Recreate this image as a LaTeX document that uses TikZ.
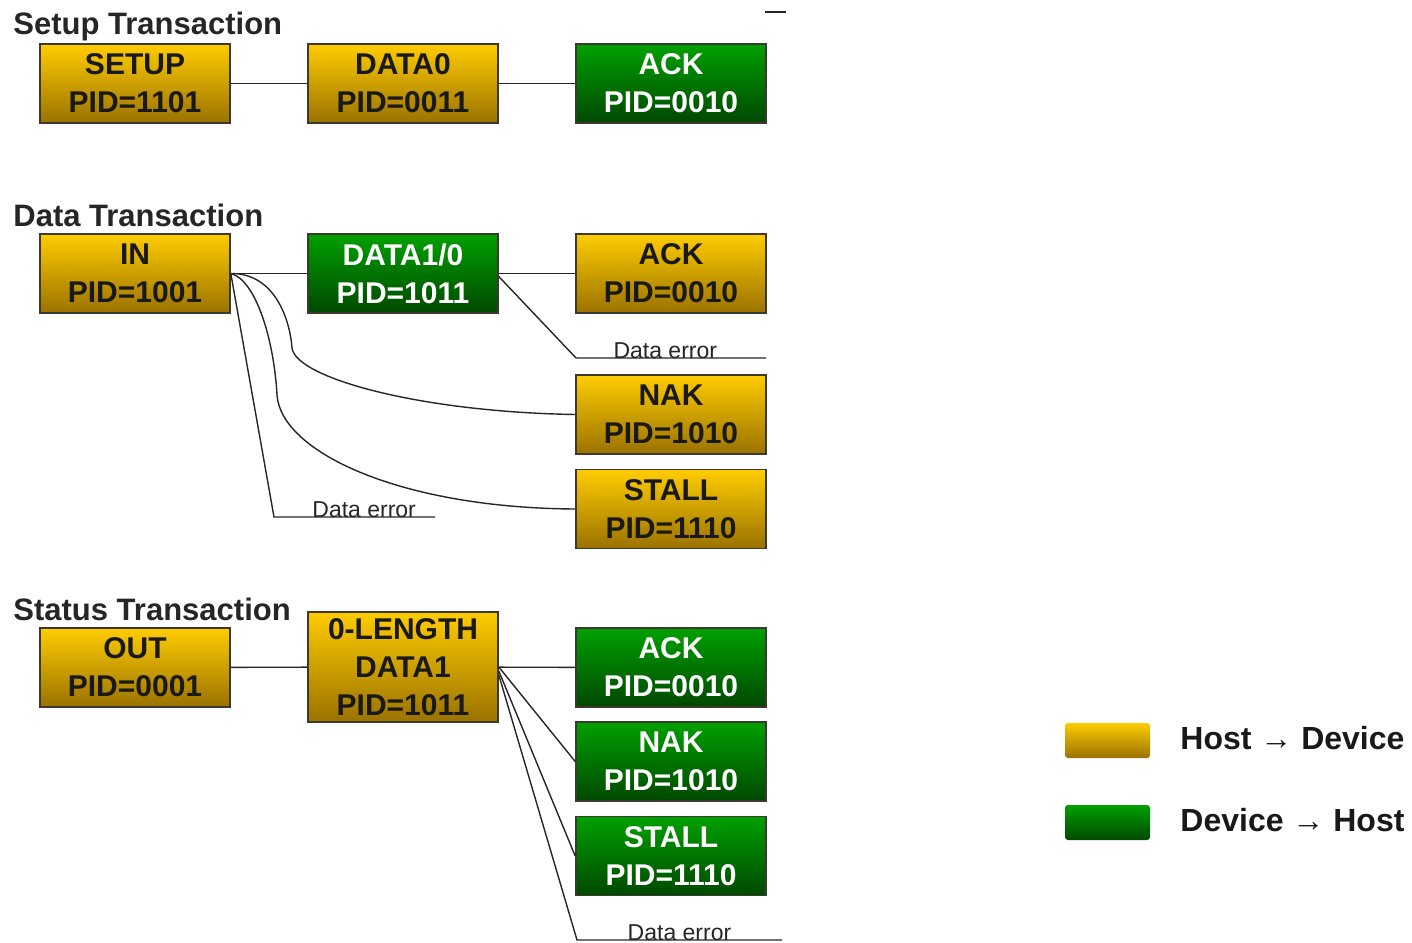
\documentclass[tikz,border=0pt]{standalone}
\usepackage{fontspec}
\setmainfont{Liberation Sans}
\usetikzlibrary{calc,positioning}
\definecolor{goldtop}{HTML}{FFCC00}
\definecolor{goldbot}{HTML}{9A7200}
\definecolor{greentop}{HTML}{00A000}
\definecolor{greenbot}{HTML}{004800}
\definecolor{rim}{HTML}{3C3A30}
\tikzset{
  pkt/.style={draw=rim,thick,minimum width=95pt,minimum height=39.5pt,inner sep=0pt,align=center,font=\fontsize{15}{19}\selectfont\bfseries},
  host/.style={pkt,top color=goldtop,bottom color=goldbot,text=black!90},
  dev/.style={pkt,top color=greentop,bottom color=greenbot,text=white},
  title/.style={anchor=west,inner sep=0pt,font=\fontsize{15.5}{18}\selectfont\bfseries,text=black!85},
  err/.style={anchor=base,inner sep=0pt,font=\fontsize{11.5}{13}\selectfont,text=black!85},
  wire/.style={line width=0.7pt,black!85},
  swatch/.style={minimum width=42.5pt,minimum height=17.5pt,inner sep=0pt,rounded corners=1.5pt},
  legtext/.style={anchor=west,inner sep=0pt,font=\fontsize{16}{19}\selectfont\bfseries,text=black!90}
}
\begin{document}
\begin{tikzpicture}[x=0.5pt,y=-0.5pt]
\useasboundingbox (0,0) rectangle (1412,942);
% setup
\node[title] (t1) at (13,26) {Setup Transaction};
\node[host] (setup) at (135,83.5) {SETUP\\PID=1101};
\node[host] (data0) at (403,83.5) {DATA0\\PID=0011};
\node[dev] (ack1) at (671,83.5) {ACK\\PID=0010};
\draw[wire] (setup) -- (data0) (data0) -- (ack1);
\coordinate (m1) at (765,12);
\coordinate (m2) at (786,12);
\draw[wire] (m1) -- (m2);
% data
\node[title] (t2) at (13,215) {Data Transaction};
\node[host] (in) at (135,273.5) {IN\\PID=1001};
\node[dev] (data1) at (403,273.5) {DATA1/0\\PID=1011};
\node[host] (ack2) at (671,273.5) {ACK\\PID=0010};
\node[host] (nak2) at (671,414.5) {NAK\\PID=1010};
\node[host] (stall2) at (671,509) {STALL\\PID=1110};
\coordinate (e1) at (576,358);
\coordinate (e1end) at (766,358);
\coordinate (e2) at (274,517);
\coordinate (e2end) at (435,517);
\draw[wire] (in) -- (data1) (data1) -- (ack2);
\draw[wire] ($(data1.east)+(0,3)$) -- (e1) -- (e1end) node[err,pos=0.47]{Data error};
\draw[wire] (in.east) .. controls (275,273) and (290,320) .. (292,348)
  .. controls (296,378) and (420,412) .. (nak2.west);
\draw[wire] (in.east) .. controls (256,280) and (274,340) .. (277,395)
  .. controls (281,452) and (400,508) .. (stall2.west);
\draw[wire] (in.east) -- (e2) -- (e2end) node[err,pos=0.56]{Data error};
% status
\node[title] (t3) at (13,609) {Status Transaction};
\node[host] (out) at (135,667.5) {OUT\\PID=0001};
\node[host,minimum height=55pt] (zlen) at (403,667) {0-LENGTH\\DATA1\\PID=1011};
\node[dev] (ack3) at (671,667.5) {ACK\\PID=0010};
\node[dev] (nak3) at (671,761.5) {NAK\\PID=1010};
\node[dev] (stall3) at (671,856) {STALL\\PID=1110};
\coordinate (e3) at (577,940);
\coordinate (e3end) at (782,940);
\draw[wire] (out) -- (zlen) (zlen) -- (ack3);
\draw[wire] (zlen.east) -- (nak3.west);
\draw[wire] ($(zlen.east)+(0,4)$) -- (stall3.west);
\draw[wire] ($(zlen.east)+(0,8)$) -- (e3) -- (e3end) node[err,pos=0.5]{Data error};
% legend
\node[swatch,top color=goldtop,bottom color=goldbot] (lhost) at (1107.5,740.5) {};
\node[legtext] (lhosttxt) at (1180,738) {Host → Device};
\node[swatch,top color=greentop,bottom color=greenbot] (ldev) at (1107.5,822.5) {};
\node[legtext] (ldevtxt) at (1180,820) {Device → Host};
\end{tikzpicture}
\end{document}
